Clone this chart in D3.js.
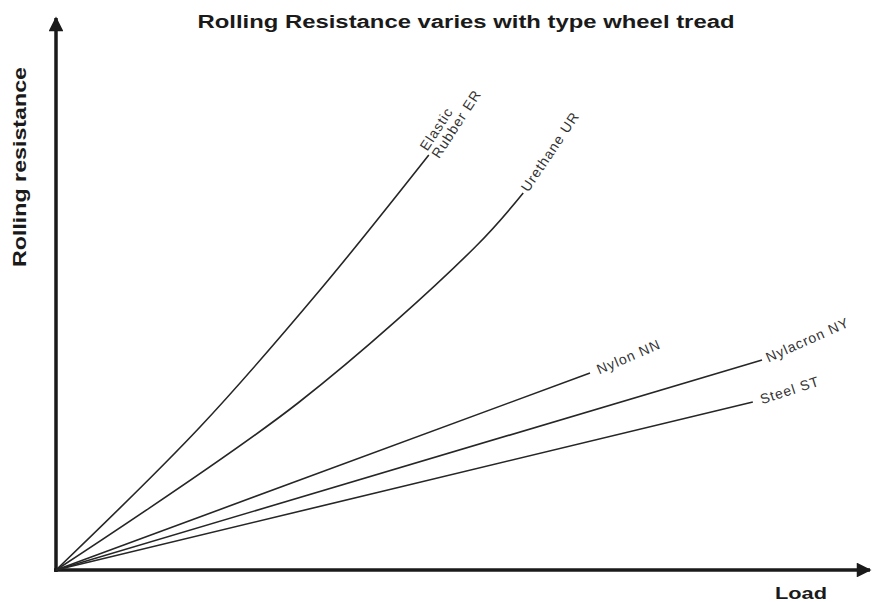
<!DOCTYPE html>
<html>
<head>
<meta charset="utf-8">
<script src="https://cdn.jsdelivr.net/npm/d3@7"></script>
<style>
  html, body { margin: 0; padding: 0; background: #fff; }
  svg { display: block; }
</style>
</head>
<body>
<svg id="chart" width="872" height="602"></svg>
<script>
// ---- data ----
const titleText = "Rolling Resistance varies with type wheel tread";
const xLabel = "Load";
const yLabel = "Rolling resistance";
const seriesNames = ["Elastic Rubber ER", "Urethane UR", "Nylon NN", "Nylacron NY", "Steel ST"];
const seriesLabelLines = [["Elastic", "Rubber ER"], ["Urethane UR"], ["Nylon NN"], ["Nylacron NY"], ["Steel ST"]];
// load (x) and rolling resistance (y), arbitrary units 0-100
const erLoad = [0, 18, 33, 46.6];
const erRes  = [0, 28.6, 56, 83];
const urLoad = [0, 30.25, 52.4, 58.4];
const urRes  = [0, 33.4, 64.6, 75.4];
const nnLoad = [0, 66.75];
const nnRes  = [0, 39.4];
const nyLoad = [0, 88.25];
const nyRes  = [0, 42];
const stLoad = [0, 87.1];
const stRes  = [0, 33.6];

// ---- layout / style ----
const svg = d3.select("#chart");
const x = d3.scaleLinear().domain([0, 100]).range([56, 856]);
const y = d3.scaleLinear().domain([0, 100]).range([570, 70]);

const loads = [erLoad, urLoad, nnLoad, nyLoad, stLoad];
const ress = [erRes, urRes, nnRes, nyRes, stRes];
const series = seriesNames.map((n, i) => ({
  name: n,
  lines: seriesLabelLines[i],
  pts: loads[i].map((l, j) => [l, ress[i][j]])
}));

const labelStyle = [
  { angle: -57, dx: 2, dy: [-3, 11] },
  { angle: -56, dx: 3, dy: [4] },
  { angle: -23, dx: 8, dy: [5] },
  { angle: -24, dx: 5, dy: [5] },
  { angle: -18, dx: 8, dy: [5] }
];

const defs = svg.append("defs");
defs.append("marker").attr("id", "arrow")
  .attr("viewBox", "0 0 10 10").attr("refX", 9).attr("refY", 5)
  .attr("markerWidth", 5.5).attr("markerHeight", 4.2)
  .attr("markerUnits", "strokeWidth")
  .attr("orient", "auto")
  .append("path").attr("d", "M0,0 L10,5 L0,10 Z").attr("fill", "#1a1a1a");

// axes as arrows
svg.append("line")
  .attr("x1", x(0)).attr("y1", y(0) + 2).attr("x2", x(0)).attr("y2", 18)
  .attr("stroke", "#1a1a1a").attr("stroke-width", 3.5)
  .attr("marker-end", "url(#arrow)");
svg.append("line")
  .attr("x1", x(0) - 2).attr("y1", y(0)).attr("x2", 870).attr("y2", y(0))
  .attr("stroke", "#1a1a1a").attr("stroke-width", 3.5)
  .attr("marker-end", "url(#arrow)");

const line = d3.line().x(d => x(d[0])).y(d => y(d[1])).curve(d3.curveCatmullRom.alpha(0.5));

svg.append("g").selectAll("path").data(series).join("path")
  .attr("d", d => line(d.pts))
  .attr("fill", "none")
  .attr("stroke", "#262626")
  .attr("stroke-width", 1.6);

// series labels
series.forEach((s, i) => {
  const last = s.pts[s.pts.length - 1];
  const st = labelStyle[i];
  const t = svg.append("text")
    .attr("transform", `translate(${x(last[0])},${y(last[1])}) rotate(${st.angle})`)
    .attr("font-family", "'Liberation Sans', Arial, sans-serif")
    .attr("font-size", 14)
    .attr("letter-spacing", 1)
    .attr("fill", "#333");
  s.lines.forEach((ln, k) => {
    t.append("tspan").attr("x", st.dx).attr("y", st.dy[k]).text(ln);
  });
});

// title
svg.append("text")
  .attr("x", 466).attr("y", 28)
  .attr("text-anchor", "middle")
  .attr("font-family", "'Liberation Sans', Arial, sans-serif")
  .attr("font-weight", "bold")
  .attr("font-size", 18)
  .attr("textLength", 537)
  .attr("lengthAdjust", "spacingAndGlyphs")
  .attr("fill", "#1a1a1a")
  .text(titleText);

// y label
svg.append("text")
  .attr("transform", "translate(26,167) rotate(-90)")
  .attr("text-anchor", "middle")
  .attr("font-family", "'Liberation Sans', Arial, sans-serif")
  .attr("font-weight", "bold")
  .attr("font-size", 18)
  .attr("textLength", 200)
  .attr("lengthAdjust", "spacingAndGlyphs")
  .attr("fill", "#1a1a1a")
  .text(yLabel);

// x label
svg.append("text")
  .attr("x", 801).attr("y", 599)
  .attr("text-anchor", "middle")
  .attr("font-family", "'Liberation Sans', Arial, sans-serif")
  .attr("font-weight", "bold")
  .attr("font-size", 17)
  .attr("textLength", 52)
  .attr("lengthAdjust", "spacingAndGlyphs")
  .attr("fill", "#1a1a1a")
  .text(xLabel);
</script>
</body>
</html>
